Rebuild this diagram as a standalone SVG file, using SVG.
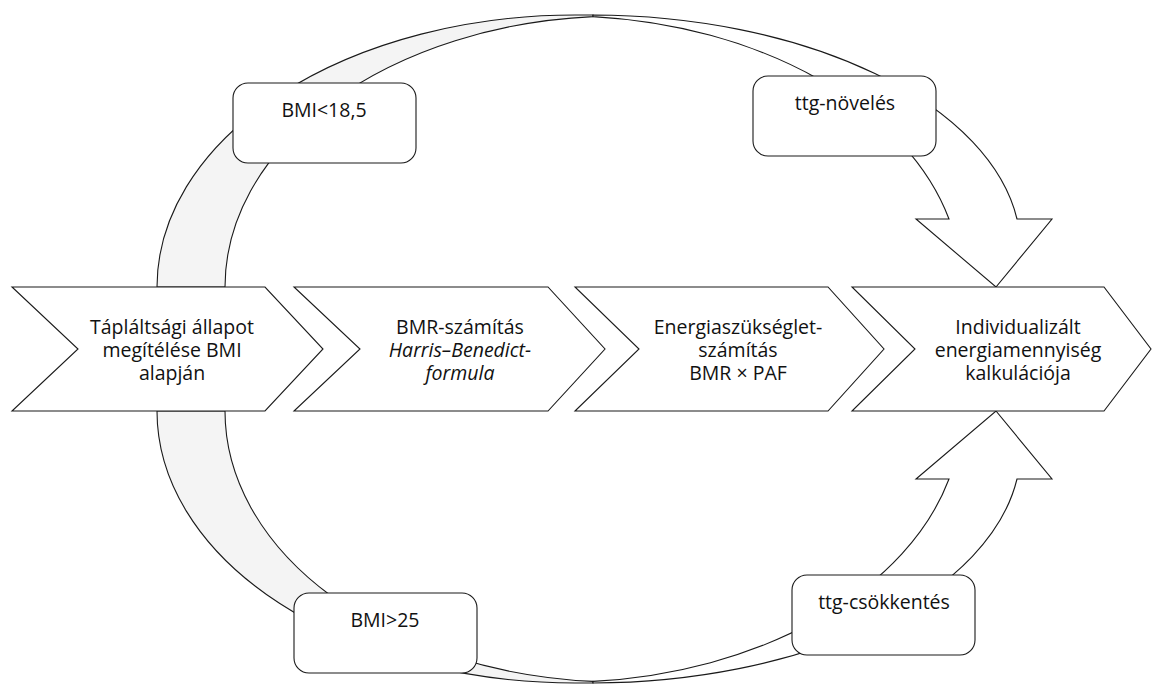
<svg xmlns="http://www.w3.org/2000/svg" width="1152" height="684" viewBox="0 0 1152 684">
  <defs>
    <style>
      .band { fill: #f4f4f4; stroke: #1a1a1a; stroke-width: 1.1; }
      .arrow { fill: #ffffff; stroke: #1a1a1a; stroke-width: 1.1; stroke-linejoin: miter; }
      .box { fill: #ffffff; stroke: #1a1a1a; stroke-width: 1.1; }
      .chev { fill: #ffffff; stroke: #1a1a1a; stroke-width: 1.1; stroke-linejoin: miter; }
      text { font-family: "Open Sans", "Noto Sans", "Liberation Sans", sans-serif; font-size: 19.5px; fill: #111111; text-anchor: middle; }
      .it { font-style: italic; }
    </style>
    <g id="topArcs">
      <path class="band" d="M157,287 A418,272 0 0 1 575,15 L593,15 L593,16.6 A395,271 0 0 0 225,287 Z"/>
      <path class="arrow" d="M593,15 A430,235 0 0 1 1017,219 L1052,219 L996,287 L916,219 L949,219 A401,270 0 0 0 593,16.6 Z"/>
    </g>
  </defs>

  <g id="connectors">
    <use href="#topArcs"/>
    <use href="#topArcs" transform="matrix(1 0 0 -1 0 698)"/>
  </g>

  <g id="box-bmi-low">
    <rect class="box" x="233" y="83" width="183" height="80" rx="15"/>
    <text x="324" y="117">BMI&lt;18,5</text>
  </g>
  <g id="box-ttg-noveles">
    <rect class="box" x="753" y="76" width="183" height="80" rx="15"/>
    <text x="845" y="110">ttg-növelés</text>
  </g>
  <g id="box-bmi-high">
    <rect class="box" x="294" y="593" width="183" height="80" rx="15"/>
    <text x="385" y="627">BMI&gt;25</text>
  </g>
  <g id="box-ttg-csokkentes">
    <rect class="box" x="792" y="575" width="183" height="80" rx="15"/>
    <text x="884" y="609">ttg-csökkentés</text>
  </g>

  <g id="step1">
    <path class="chev" d="M12,287 L265,287 L323,349 L265,411 L12,411 L78,349 Z"/>
    <text x="172" y="334">Tápláltsági állapot</text>
    <text x="172" y="357">megítélése BMI</text>
    <text x="172" y="380">alapján</text>
  </g>
  <g id="step2">
    <path class="chev" d="M294,287 L548,287 L605,349 L548,411 L294,411 L360,349 Z"/>
    <text x="460" y="334">BMR-számítás</text>
    <text class="it" x="460" y="357">Harris–Benedict-</text>
    <text class="it" x="460" y="380">formula</text>
  </g>
  <g id="step3">
    <path class="chev" d="M575,287 L828,287 L884,349 L828,411 L575,411 L639,349 Z"/>
    <text x="738" y="334">Energiaszükséglet-</text>
    <text x="738" y="357">számítás</text>
    <text x="738" y="380">BMR × PAF</text>
  </g>
  <g id="step4">
    <path class="chev" d="M852,287 L1104,287 L1151,349 L1104,411 L852,411 L915,349 Z"/>
    <text x="1018" y="334">Individualizált</text>
    <text x="1018" y="357">energiamennyiség</text>
    <text x="1018" y="380">kalkulációja</text>
  </g>
</svg>
